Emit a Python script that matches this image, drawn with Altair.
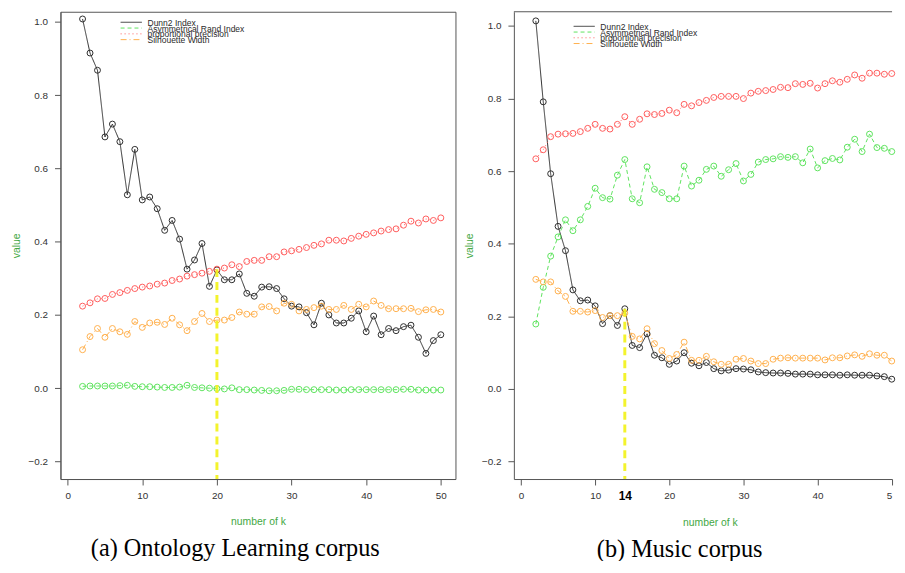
import altair as alt
import pandas as pd

K = list(range(2, 51))
SERIES = ["Dunn2 Index", "Asymmetrical Rand Index", "proportional precision", "Silhouette Width"]
COLORS = ["#2e2e2e", "#5ee35e", "#ff5c5c", "#ffb04e"]
DASHES = [[1, 0], [4, 3], [1, 3], [6, 3, 1, 3]]

# (a) Ontology Learning corpus
ol_dunn = [1.008, 0.915, 0.868, 0.686, 0.721, 0.673, 0.528, 0.652, 0.514, 0.522, 0.490, 0.431, 0.458, 0.407,
           0.325, 0.350, 0.395, 0.278, 0.323, 0.296, 0.296, 0.312, 0.259, 0.251,
           0.276, 0.277, 0.272, 0.244, 0.224, 0.222, 0.206, 0.173, 0.232, 0.200,
           0.178, 0.178, 0.191, 0.211, 0.154, 0.197, 0.146, 0.163, 0.157, 0.168, 0.172, 0.139, 0.095, 0.130, 0.146]
ol_ari = [0.005, 0.006, 0.006, 0.006, 0.006, 0.007, 0.008, 0.005, 0.004, 0.004, 0.003, 0.002, 0.002, 0.003,
          0.008, 0.002, 0.001, 0.000, -0.001, -0.002, 0.001, -0.004, -0.004, -0.005,
          -0.006, -0.007, -0.007, -0.006, -0.003, -0.003, -0.004, -0.004, -0.004, -0.004,
          -0.005, -0.005, -0.004, -0.004, -0.004, -0.004, -0.004, -0.004, -0.004, -0.003, -0.003, -0.005, -0.005, -0.005, -0.005]
ol_pp = [0.224, 0.233, 0.244, 0.245, 0.256, 0.261, 0.267, 0.272, 0.276, 0.279, 0.284, 0.287, 0.294, 0.298,
         0.306, 0.310, 0.314, 0.319, 0.325, 0.328, 0.337, 0.332, 0.346, 0.349,
         0.349, 0.359, 0.359, 0.372, 0.375, 0.379, 0.384, 0.390, 0.394, 0.404,
         0.404, 0.402, 0.409, 0.415, 0.420, 0.424, 0.429, 0.433, 0.435, 0.445, 0.456, 0.451, 0.462, 0.458, 0.465]
ol_sil = [0.105, 0.141, 0.163, 0.139, 0.163, 0.154, 0.147, 0.182, 0.166, 0.178, 0.180, 0.174, 0.191, 0.173,
          0.157, 0.182, 0.204, 0.182, 0.186, 0.186, 0.193, 0.208, 0.202, 0.202,
          0.222, 0.223, 0.211, 0.232, 0.229, 0.211, 0.215, 0.220, 0.224, 0.215,
          0.215, 0.226, 0.215, 0.229, 0.222, 0.238, 0.226, 0.217, 0.217, 0.217, 0.218, 0.209, 0.214, 0.215, 0.208]

# (b) Music corpus
mu_dunn = [1.014, 0.791, 0.593, 0.448, 0.381, 0.273, 0.243, 0.245, 0.229, 0.180, 0.202, 0.175, 0.221, 0.120,
           0.114, 0.152, 0.093, 0.086, 0.068, 0.077, 0.100, 0.071, 0.064, 0.073,
           0.056, 0.050, 0.052, 0.056, 0.055, 0.053, 0.047, 0.045, 0.044, 0.044,
           0.043, 0.041, 0.041, 0.041, 0.039, 0.039, 0.039, 0.038, 0.039, 0.038, 0.038, 0.038, 0.036, 0.034, 0.027]
mu_ari = [0.179, 0.280, 0.366, 0.419, 0.466, 0.436, 0.466, 0.503, 0.553, 0.527, 0.523, 0.589, 0.632, 0.524,
          0.513, 0.612, 0.550, 0.541, 0.524, 0.524, 0.614, 0.559, 0.575, 0.605,
          0.614, 0.586, 0.604, 0.621, 0.573, 0.591, 0.625, 0.632, 0.634, 0.640,
          0.638, 0.640, 0.623, 0.661, 0.609, 0.629, 0.635, 0.631, 0.666, 0.688, 0.654, 0.702, 0.665, 0.663, 0.654]
mu_pp = [0.634, 0.659, 0.695, 0.702, 0.703, 0.704, 0.709, 0.718, 0.729, 0.718, 0.716, 0.729, 0.750, 0.729,
         0.743, 0.758, 0.756, 0.759, 0.768, 0.761, 0.784, 0.780, 0.789, 0.795,
         0.803, 0.806, 0.806, 0.806, 0.800, 0.815, 0.820, 0.822, 0.825, 0.831,
         0.830, 0.841, 0.839, 0.842, 0.829, 0.841, 0.849, 0.845, 0.853, 0.865, 0.856, 0.870, 0.870, 0.867, 0.869]
mu_sil = [0.302, 0.295, 0.295, 0.270, 0.255, 0.214, 0.214, 0.212, 0.216, 0.197, 0.202, 0.202, 0.209, 0.145,
          0.138, 0.166, 0.125, 0.106, 0.084, 0.095, 0.129, 0.079, 0.079, 0.090,
          0.075, 0.068, 0.068, 0.082, 0.084, 0.077, 0.070, 0.070, 0.082, 0.085,
          0.086, 0.085, 0.085, 0.085, 0.085, 0.080, 0.086, 0.086, 0.091, 0.094, 0.090, 0.097, 0.093, 0.093, 0.077]

# chosen k (yellow marker)
ol_best_k, ol_best_v = 20, 0.325
mu_best_k, mu_best_v = 14, 0.221

Y_TICKS = [-0.2, 0.0, 0.2, 0.4, 0.6, 0.8, 1.0]
X_TICKS = [0, 10, 20, 30, 40, 50]
XMIN = -0.96
YMIN = -0.248

# legend block placed in data units (as R's legend(x, y, ...))
LEG_K0, LEG_K1, LEG_KT = 7.1, 9.95, 10.7
LEG_V0, LEG_DV = 0.999, 0.0158

FRAME = "#555555"
GREEN_T = "#44a844"
SANS = "Liberation Sans"


def long_df(series_values):
    rows = []
    for s, vals in zip(SERIES, series_values):
        for k, v in zip(K, vals):
            rows.append({"k": k, "value": v, "series": s})
    return pd.DataFrame(rows)


def legend_df():
    return pd.DataFrame({
        "series": SERIES,
        "k0": [LEG_K0] * len(SERIES),
        "k1": [LEG_K1] * len(SERIES),
        "kt": [LEG_KT] * len(SERIES),
        "v": [LEG_V0 - i * LEG_DV for i in range(len(SERIES))],
    })


def make_panel(df, best_k, best_v, ytop, width, xmax, caption, is_right, cap_dx):
    xs = alt.Scale(domain=[XMIN, xmax], nice=False, zero=False)
    ys = alt.Scale(domain=[YMIN, ytop], nice=False, zero=False)
    cs = alt.Scale(domain=SERIES, range=COLORS)
    ds = alt.Scale(domain=SERIES, range=DASHES)

    if is_right:
        xaxis = alt.Axis(
            values=[0, 10, 14, 20, 30, 40, 50], title="number of k", grid=False,
            labelExpr="datum.value == 50 ? '5' : datum.label",
            labelFontWeight={"condition": {"test": "datum.value == 14", "value": "bold"}, "value": "normal"},
            labelFontSize={"condition": {"test": "datum.value == 14", "value": 12}, "value": 10},
            labelColor={"condition": {"test": "datum.value == 14", "value": "#000000"}, "value": "#333333"},
            labelAlign={"condition": {"test": "datum.value == 50", "value": "right"}, "value": "center"},
            tickOpacity={"condition": {"test": "datum.value == 14", "value": 0}, "value": 1},
            titleX=198,
        )
    else:
        xaxis = alt.Axis(values=X_TICKS, title="number of k", grid=False)
    yaxis = alt.Axis(values=Y_TICKS, format=".1f", title="value", grid=False)

    base = alt.Chart(df)
    lines = base.mark_line(strokeWidth=1).encode(
        x=alt.X("k:Q", scale=xs, axis=xaxis),
        y=alt.Y("value:Q", scale=ys, axis=yaxis),
        color=alt.Color("series:N", scale=cs, legend=None),
        strokeDash=alt.StrokeDash("series:N", scale=ds, legend=None),
        detail="series:N",
    )
    points = base.mark_point(shape="circle", filled=False, size=36, strokeWidth=1, opacity=1).encode(
        x=alt.X("k:Q", scale=xs),
        y=alt.Y("value:Q", scale=ys),
        color=alt.Color("series:N", scale=cs, legend=None),
    )
    best = alt.Chart(pd.DataFrame({"k": [best_k], "value": [best_v]})).mark_rule(
        color="#f2f222", strokeWidth=3, strokeDash=[8, 5], opacity=0.95
    ).encode(
        x=alt.X("k:Q", scale=xs),
        y=alt.Y("value:Q", scale=ys),
        y2=alt.datum(YMIN),
    )
    leg = alt.Chart(legend_df())
    leg_lines = leg.mark_rule(strokeWidth=1).encode(
        x=alt.X("k0:Q", scale=xs),
        x2="k1:Q",
        y=alt.Y("v:Q", scale=ys),
        color=alt.Color("series:N", scale=cs, legend=None),
        strokeDash=alt.StrokeDash("series:N", scale=ds, legend=None),
    )
    leg_text = leg.mark_text(align="left", baseline="middle", font=SANS, fontSize=8.6,
                             color="#2a2a2a", dy=0.5).encode(
        x=alt.X("kt:Q", scale=xs),
        y=alt.Y("v:Q", scale=ys),
        text="series:N",
    )
    layers = [lines, points, best, leg_lines, leg_text]
    if is_right:
        top = alt.Chart(alt.Data(values=[{}])).mark_rule(color=FRAME, strokeWidth=1).encode(
            y=alt.datum(ytop)
        )
        layers.append(top)

    props = dict(
        width=width, height=472,
        title=alt.TitleParams(
            caption, orient="bottom", font="Liberation Serif", fontSize=24.5, fontWeight="normal",
            color="#000000", anchor="middle", frame="bounds", offset=10, dx=cap_dx,
        ),
    )
    if is_right:
        props["view"] = alt.ViewBackground(strokeOpacity=0)
    return alt.layer(*layers).properties(**props)


left = make_panel(long_df([ol_dunn, ol_ari, ol_pp, ol_sil]), ol_best_k, ol_best_v,
                  1.0277, 399, 51.96, "(a)  Ontology Learning corpus", False, 2)
right = make_panel(long_df([mu_dunn, mu_ari, mu_pp, mu_sil]), mu_best_k, mu_best_v,
                   1.0391, 382, 50.04, "(b)  Music corpus", True, -1)

chart = alt.hconcat(left, right, spacing=8).resolve_scale(
    x="independent", y="independent", color="independent", strokeDash="independent"
).properties(
    padding={"left": 2, "top": 0, "right": 0, "bottom": -3}
).configure_view(
    stroke=FRAME, strokeWidth=1
).configure_axis(
    labelFont=SANS, titleFont=SANS, labelFontSize=10, titleFontSize=10.5,
    labelColor="#333333", titleColor=GREEN_T, titleFontWeight="normal",
    tickColor=FRAME, tickSize=6, domainColor=FRAME, domain=True,
).configure_axisY(
    labelPadding=7, titlePadding=7,
).configure_axisX(
    labelPadding=6, titlePadding=16,
)

chart.save("out.html", embed_options={"renderer": "svg", "actions": False})
